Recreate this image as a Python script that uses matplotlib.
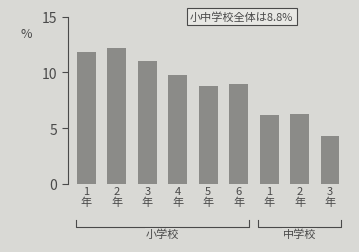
import matplotlib
matplotlib.use("Agg")
import numpy as np
from matplotlib import pyplot as plt

plt.rcParams["font.family"] = ["Noto Sans CJK JP", "DejaVu Sans"]

grades = ["1", "2", "3", "4", "5", "6", "1", "2", "3"]
rates = [11.8, 12.2, 11.0, 9.8, 8.8, 9.0, 6.2, 6.3, 4.3]
groups = ["小学校", "中学校"]
group_sizes = [6, 3]
note = "小中学校全体は8.8%"
yticks = [0, 5, 10, 15]

paper = "#d9d9d5"
ink = "#4a4a4a"
bar_c = "#8b8b88"

fig = plt.figure(figsize=(3.59, 2.53), dpi=100, facecolor=paper)
ax = fig.add_axes([0.19, 0.27, 0.78, 0.66])
ax.set_facecolor(paper)

x = np.arange(len(rates))
ax.bar(x, rates, width=0.62, color=bar_c, zorder=2)
ax.set_xlim(-0.6, len(rates) - 0.4)
ax.set_ylim(0, 15)
ax.set_yticks(yticks)
ax.set_yticklabels([str(t) for t in yticks], fontsize=10, color=ink)
ax.tick_params(axis="y", length=4, color=ink, pad=4)
ax.tick_params(axis="x", length=0, pad=2)
ax.set_xticks(x)
ax.set_xticklabels([g + "\n年" for g in grades], fontsize=8, color=ink, linespacing=1.0)
for s in ["top", "right", "bottom"]:
    ax.spines[s].set_visible(False)
ax.spines["left"].set_color(ink)
ax.text(-0.15, 0.88, "%", transform=ax.transAxes, fontsize=9, color=ink, ha="center")

# group brackets under the grade labels
start = 0
for name, n in zip(groups, group_sizes):
    x0, x1 = start - 0.35, start + n - 0.65
    yb = -3.9
    ax.plot([x0, x0, x1, x1], [yb + 0.6, yb, yb, yb + 0.6], color=ink, lw=0.8, clip_on=False)
    ax.text((x0 + x1) / 2, yb - 0.1, name, ha="center", va="top", fontsize=8, color=ink,
            bbox=dict(facecolor=paper, edgecolor="none", pad=0.5))
    start += n

# note box at top
ax.text(0.62, 1.0, note, transform=ax.transAxes, ha="center", va="center", fontsize=8, color=ink,
        bbox=dict(facecolor="#e8e8e4", edgecolor=ink, lw=0.8, pad=2.5), zorder=3)

plt.savefig("out.png", dpi=100, facecolor=paper)
plt.close()
